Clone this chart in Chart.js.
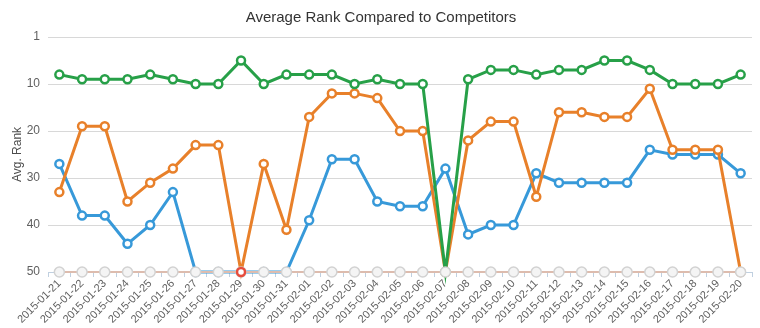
<!DOCTYPE html>
<html>
<head>
<meta charset="utf-8">
<script src="https://cdn.jsdelivr.net/npm/chart.js"></script>
<style>
  body { margin: 0; background: #fff; }
  #wrap { width: 760px; height: 328px; }
</style>
</head>
<body>
<div id="wrap"><canvas id="rankChart"></canvas></div>
<script>
const dates = [
  "2015-01-21", "2015-01-22", "2015-01-23", "2015-01-24", "2015-01-25", "2015-01-26",
  "2015-01-27", "2015-01-28", "2015-01-29", "2015-01-30", "2015-01-31", "2015-02-01",
  "2015-02-02", "2015-02-03", "2015-02-04", "2015-02-05", "2015-02-06", "2015-02-07",
  "2015-02-08", "2015-02-09", "2015-02-10", "2015-02-11", "2015-02-12", "2015-02-13",
  "2015-02-14", "2015-02-15", "2015-02-16", "2015-02-17", "2015-02-18", "2015-02-19",
  "2015-02-20"
];

const blueRank = [27, 38, 38, 44, 40, 33, 50, 50, 50, 50, 50, 39, 26, 26, 35, 36,
  36, 28, 42, 40, 40, 29, 31, 31, 31, 31, 24, 25, 25, 25, 29];
const orangeRank = [33, 19, 19, 35, 31, 28, 23, 23, 50, 27, 41, 17, 12, 12, 13, 20,
  20, 50, 22, 18, 18, 34, 16, 16, 17, 17, 11, 24, 24, 24, 50];
const greenRank = [8, 9, 9, 9, 8, 9, 10, 10, 5, 10, 8, 8, 8, 10, 9, 10,
  10, 50, 9, 7, 7, 8, 7, 7, 5, 5, 7, 10, 10, 10, 8];
const otherRank = [50, 50, 50, 50, 50, 50, 50, 50, 50, 50, 50, 50, 50, 50, 50, 50,
  50, 50, 50, 50, 50, 50, 50, 50, 50, 50, 50, 50, 50, 50, 50];
const flaggedRank = [null, null, null, null, null, null, null, null, 50, null, null, null,
  null, null, null, null, null, null, null, null, null, null, null, null, null, null,
  null, null, null, null, null];

const yTicks = [0, 10, 20, 30, 40, 50];

const FONT = "'Liberation Sans', Arial, sans-serif";

function series(label, data, color, order) {
  return {
    label: label,
    data: data,
    borderColor: color,
    backgroundColor: color,
    borderWidth: 3,
    pointRadius: 4,
    pointHoverRadius: 4,
    pointBorderWidth: 2.5,
    pointBorderColor: color,
    pointBackgroundColor: "#ffffff",
    tension: 0,
    clip: false,
    order: order
  };
}

const other = series("Other", otherRank, "#ddbcae", 2);
other.borderWidth = 2;
other.pointRadius = 5;
other.pointBorderWidth = 1.5;
other.pointBorderColor = "#d2d2d2";
other.pointBackgroundColor = "#f4f4f4";

const flagged = series("Flagged", flaggedRank, "#e74c3c", 1);
flagged.showLine = false;

new Chart(document.getElementById("rankChart"), {
  type: "line",
  data: {
    labels: dates,
    datasets: [
      flagged,
      other,
      series("Site C", greenRank, "#27a048", 3),
      series("Site B", orangeRank, "#e8802a", 4),
      series("Site A", blueRank, "#3799d9", 5)
    ]
  },
  options: {
    responsive: true,
    maintainAspectRatio: false,
    animation: false,
    layout: { padding: { left: 10, right: 8, top: 0, bottom: 0 } },
    plugins: {
      legend: { display: false },
      tooltip: { enabled: false },
      title: {
        display: true,
        text: "Average Rank Compared to Competitors",
        color: "#333333",
        font: { family: FONT, size: 15, weight: "normal" },
        padding: { top: 9, bottom: 10 }
      }
    },
    scales: {
      x: {
        offset: true,
        grid: {
          offset: true,
          drawOnChartArea: false,
          color: "#c0d0e0",
          tickLength: 5
        },
        border: { color: "#c0d0e0" },
        ticks: {
          autoSkip: false,
          minRotation: 45,
          maxRotation: 45,
          padding: 0,
          color: "#606060",
          font: { family: FONT, size: 11 }
        },
        afterFit: (scale) => { scale.height = 56; }
      },
      y: {
        reverse: true,
        min: 0,
        max: 50,
        afterBuildTicks: (scale) => {
          scale.ticks = yTicks.map((v) => ({ value: v }));
        },
        grid: { color: "#d8d8d8", drawTicks: false },
        border: { display: false },
        ticks: {
          padding: 8,
          color: "#606060",
          font: { family: FONT, size: 12 },
          callback: (v) => (v === 0 ? "1" : v)
        },
        title: {
          display: true,
          text: "Avg. Rank",
          color: "#4d4d4d",
          font: { family: FONT, size: 12 },
          padding: { top: 0, bottom: 4 }
        },
        afterFit: (scale) => { scale.width = 38; }
      }
    }
  }
});
</script>
</body>
</html>
